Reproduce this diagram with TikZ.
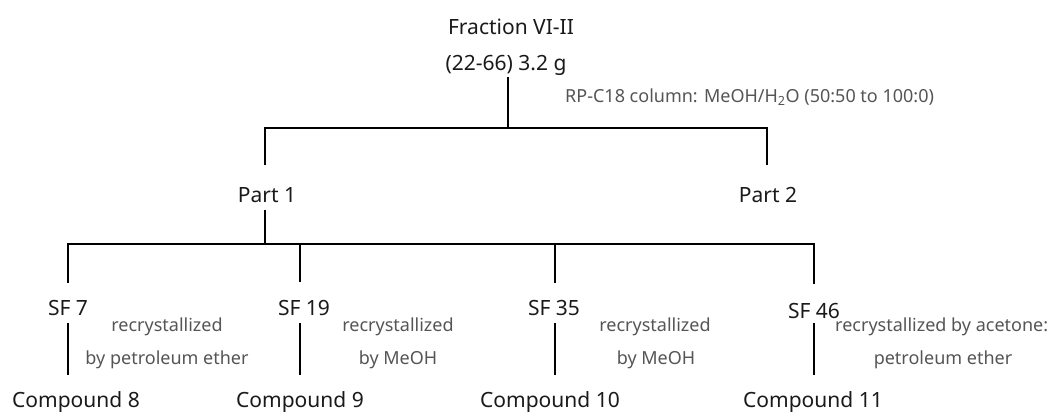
\documentclass[tikz,border=0pt]{standalone}
\usepackage{fontspec}
\setmainfont{Noto Sans}
\definecolor{lbl}{HTML}{1A1A1A}
\definecolor{note}{HTML}{555555}
\begin{document}
\begin{tikzpicture}[x=1pt,y=-1pt,
  lab/.style={inner sep=0pt,text=lbl,font=\fontsize{21}{24}\selectfont},
  cond/.style={inner sep=0pt,text=note,font=\fontsize{18}{21}\selectfont},
  ln/.style={line width=1.3pt,black}]
\useasboundingbox (0,0) rectangle (1055,412);
% texts
\node[lab] (frac) at (511,27) {Fraction VI-II};
\node[lab] (amt) at (506,65) {(22-66) 3.2 g};
\node[cond,anchor=west] (rp) at (565,97) {RP-C18 column: MeOH/H\textsubscript{2}O (50:50 to 100:0)};
\node[lab] (p1) at (267,195) {Part 1};
\node[lab] (p2) at (768,195) {Part 2};
\node[lab] (s7) at (68,308) {SF 7};
\node[lab] (s19) at (304,308) {SF 19};
\node[lab] (s35) at (554,308) {SF 35};
\node[lab] (s46) at (814,311) {SF 46};
\node[lab] (c8) at (76,402) {Compound 8};
\node[lab] (c9) at (300,402) {Compound 9};
\node[lab] (c10) at (550,402) {Compound 10};
\node[lab] (c11) at (813,402) {Compound 11};
\node[cond] (r7a) at (167,327) {recrystallized};
\node[cond] (r7b) at (167,360) {by petroleum ether};
\node[cond] (r19a) at (398,327) {recrystallized};
\node[cond] (r19b) at (398,360) {by MeOH};
\node[cond] (r35a) at (655,327) {recrystallized};
\node[cond] (r35b) at (656,360) {by MeOH};
\node[cond,anchor=west] (r46a) at (835,327) {recrystallized by acetone:};
\node[cond] (r46b) at (943,360) {petroleum ether};
% line ends
\coordinate (t0) at (508,77);
\coordinate (t1) at (508,128);
\coordinate (p1t) at (265,165);
\coordinate (p2t) at (767,165);
\coordinate (p1b) at (265,210);
\coordinate (j2) at (265,244);
\coordinate (s7t) at (68,283);
\coordinate (s19t) at (300,282);
\coordinate (s35t) at (555,283);
\coordinate (s46t) at (814,284);
\coordinate (s7b) at (68,323);
\coordinate (s19b) at (300,323);
\coordinate (s35b) at (555,323);
\coordinate (s46b) at (814,323);
\coordinate (c8t) at (68,375);
\coordinate (c9t) at (300,375);
\coordinate (c10t) at (555,375);
\coordinate (c11t) at (814,375);
% connectors
\draw[ln] (t0) -- (t1);
\draw[ln] (p1t) |- (t1) -| (p2t);
\draw[ln] (p1b) -- (j2);
\draw[ln] (s7t) |- (j2) -| (s46t);
\draw[ln] (s19t) -- (s19t|-j2);
\draw[ln] (s35t) -- (s35t|-j2);
\draw[ln] (s7b) -- (c8t);
\draw[ln] (s19b) -- (c9t);
\draw[ln] (s35b) -- (c10t);
\draw[ln] (s46b) -- (c11t);
\end{tikzpicture}
\end{document}
